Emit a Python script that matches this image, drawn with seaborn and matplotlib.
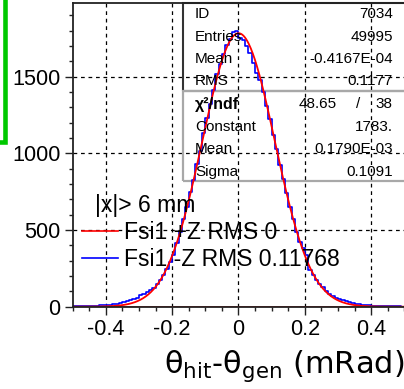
import numpy as np
import pandas as pd
import matplotlib
matplotlib.use("Agg")
import matplotlib.pyplot as plt
from matplotlib.lines import Line2D
from matplotlib.patches import Rectangle
from matplotlib.ticker import MultipleLocator, FuncFormatter
import seaborn as sns

# Binning: 100 bins of 0.01 mRad between -0.5 and 0.5
x_low, x_high, n_bins = -0.5, 0.5, 100

# Bin contents of the -Z histogram (left to right)
minus_z_counts = [
    4, 5, 4, 6, 5, 6, 7, 6, 8, 9,
    11, 12, 15, 18, 22, 28, 34, 41, 49, 58,
    74, 84, 95, 108, 125, 146, 172, 205, 245, 290,
    340, 418, 488, 572, 648, 745, 826, 930, 1018, 1130,
    1230, 1322, 1415, 1520, 1580, 1650, 1705, 1748, 1792, 1795,
    1750, 1738, 1700, 1652, 1590, 1525, 1480, 1398, 1310, 1225,
    1118, 1030, 922, 835, 742, 648, 572, 490, 425, 380,
    335, 240, 205, 172, 148, 126, 105, 86, 68, 56,
    48, 42, 36, 29, 23, 19, 15, 12, 10, 11,
    6, 5, 4, 4, 3, 3, 2, 2, 2, 1,
]
# The +Z histogram is empty
plus_z_counts = [0] * n_bins

# Gaussian fit to the -Z histogram
fit_constant = 1783.0
fit_mean = 0.1790e-03
fit_sigma = 0.1091

stats_labels = ["ID", "Entries", "Mean", "RMS"]
stats_values = ["7034", "49995", "-0.4167E-04", "0.1177"]
chi2_text, ndf_text = "48.65", "38"
fit_labels = ["Constant", "Mean", "Sigma"]
fit_values = ["1783.", "0.1790E-03", "0.1091"]

legend_title = "|x|> 6 mm"
legend_labels = ["Fsi1 +Z RMS 0", "Fsi1 -Z RMS 0.11768"]
x_title = r"$\mathrm{θ}_{\mathrm{hit}}$-$\mathrm{θ}_{\mathrm{gen}}$ (mRad)"

plt.rcParams["font.family"] = ["Liberation Sans", "DejaVu Sans"]
plt.rcParams["axes.unicode_minus"] = False

bin_width = (x_high - x_low) / n_bins
centers = x_low + bin_width * (np.arange(n_bins) + 0.5)
hist_df = pd.DataFrame({"theta": centers, "minus_z": minus_z_counts, "plus_z": plus_z_counts})

fit_x = np.linspace(x_low, x_high, 500)
fit_df = pd.DataFrame({
    "theta": fit_x,
    "fit": fit_constant * np.exp(-0.5 * ((fit_x - fit_mean) / fit_sigma) ** 2),
})

W, H = 404, 389
fig = plt.figure(figsize=(W / 100, H / 100), dpi=100)
ax = fig.add_axes([72.5 / W, 82.3 / H, 332 / W, 303.7 / H])

sns.histplot(data=hist_df, x="theta", weights="minus_z", bins=n_bins,
             binrange=(x_low, x_high), element="step", fill=False,
             color="#0000ff", linewidth=1.2, ax=ax)
sns.histplot(data=hist_df, x="theta", weights="plus_z", bins=n_bins,
             binrange=(x_low, x_high), element="step", fill=False,
             color="#ff0000", linewidth=1.2, ax=ax)
sns.lineplot(data=fit_df, x="theta", y="fit", color="#ff0000", linewidth=1.3, ax=ax)

ax.set_xlim(x_low, x_high)
ax.set_ylim(0, 1980)
ax.set_ylabel("")

ax.xaxis.set_major_locator(MultipleLocator(0.2))
ax.xaxis.set_minor_locator(MultipleLocator(0.05))
ax.yaxis.set_major_locator(MultipleLocator(500))
ax.yaxis.set_minor_locator(MultipleLocator(100))
ax.xaxis.set_major_formatter(FuncFormatter(lambda v, _: f"{round(v, 2) + 0:g}"))
ax.yaxis.set_major_formatter(FuncFormatter(lambda v, _: f"{v:.0f}"))
ax.tick_params(which="major", direction="out", length=6, width=1.0, labelsize=15.6,
               pad=2.5, colors="#222222", labelcolor="black")
ax.tick_params(which="minor", direction="out", length=3, width=1.0, colors="#222222")
ax.tick_params(top=False, right=False, which="both")

ax.grid(True, which="major", color="black", linestyle=(0, (3, 3)), linewidth=0.9)
ax.set_axisbelow(True)
for side in ["left", "bottom", "top"]:
    ax.spines[side].set_color("#222222")
    ax.spines[side].set_linewidth(1.3)
ax.spines["right"].set_visible(False)

# Statistics box
box_left = 0.333
ax.add_patch(Rectangle((box_left, 0.710), 0.75, 0.29, transform=ax.transAxes,
                       fill=False, edgecolor="#333333", linewidth=1.5, clip_on=False))
ax.add_patch(Rectangle((box_left, 0.414), 0.75, 0.296, transform=ax.transAxes,
                       fill=False, edgecolor="#a8a8a8", linewidth=1.6, clip_on=False))
row_y = [0.9637, 0.888, 0.816, 0.7428]
for lab, val, y in zip(stats_labels, stats_values, row_y):
    ax.text(0.369, y, lab, transform=ax.transAxes, fontsize=11, va="center", ha="left")
    ax.text(0.965, y, val, transform=ax.transAxes, fontsize=11, va="center", ha="right")
ax.text(0.369, 0.667, "χ²/ndf", transform=ax.transAxes, fontsize=11.5, va="center",
        ha="left", fontweight="bold")
ax.text(0.797, 0.667, chi2_text, transform=ax.transAxes, fontsize=11, va="center", ha="right")
ax.text(0.86, 0.667, "/", transform=ax.transAxes, fontsize=11, va="center", ha="center")
ax.text(0.965, 0.667, ndf_text, transform=ax.transAxes, fontsize=11, va="center", ha="right")
for lab, val, y in zip(fit_labels, fit_values, [0.5915, 0.519, 0.443]):
    ax.text(0.369, y, lab, transform=ax.transAxes, fontsize=11, va="center", ha="left")
    ax.text(0.965, y, val, transform=ax.transAxes, fontsize=11, va="center", ha="right")

# Legend
ax.text(0.0663, 0.332, legend_title, transform=ax.transAxes, fontsize=16.5,
        va="center", ha="left")
handles = [Line2D([], [], color="#ff0000", linewidth=1.2),
           Line2D([], [], color="#0000ff", linewidth=1.2)]
ax.legend(handles, legend_labels, loc="upper left", bbox_to_anchor=(0.0286, 0.283),
          frameon=False, fontsize=16.5, handlelength=1.55, handletextpad=0.27,
          labelspacing=0.2, borderpad=0, borderaxespad=0)

ax.set_xlabel(x_title, loc="right", fontsize=22, labelpad=6,
              fontfamily="DejaVu Sans")

# Green bracket at the left margin
fig.add_artist(Line2D([5 / W, 5 / W, 0], [1.0, 247 / H, 247 / H],
                      transform=fig.transFigure, color="#00c800", linewidth=3.3,
                      solid_joinstyle="miter"))

fig.savefig("out.png", dpi=100)
